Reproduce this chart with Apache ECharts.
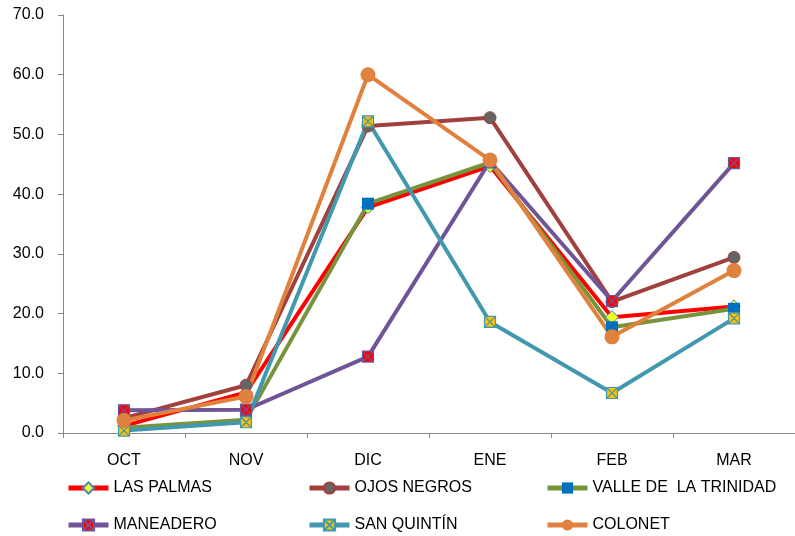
<!DOCTYPE html>
<html>
<head>
<meta charset="utf-8">
<script src="https://cdn.jsdelivr.net/npm/echarts@6/dist/echarts.min.js"></script>
<style>html,body{margin:0;padding:0;background:#fff;}#c{width:795px;height:536px;}</style>
</head>
<body>
<div id="c"></div>
<script>
var categories = ['OCT', 'NOV', 'DIC', 'ENE', 'FEB', 'MAR'];
var lasPalmas = [1.2, 6.8, 37.8, 44.7, 19.4, 21.2];
var ojosNegros = [2.5, 8.0, 51.4, 52.8, 22.0, 29.4];
var valleTrinidad = [0.9, 2.2, 38.4, 45.3, 17.7, 20.8];
var maneadero = [3.8, 3.9, 12.8, 45.5, 22.1, 45.2];
var sanQuintin = [0.4, 1.8, 52.2, 18.6, 6.7, 19.2];
var colonet = [2.1, 6.1, 60.0, 45.7, 16.1, 27.2];
var seriesNames = ['LAS PALMAS', 'OJOS NEGROS', 'VALLE DE  LA TRINIDAD', 'MANEADERO', 'SAN QUINTÍN', 'COLONET'];
var yTicks = [0, 70, 10];

var xSym = 'path://M0,0L10,0L10,10L0,10Z M0,0L10,10 M10,0L0,10';
var FONT = 'Liberation Sans';

function mk(name, data, lineColor, symbol, size, fill, border, bw) {
  return {
    name: name, type: 'line', data: data,
    symbol: symbol, symbolSize: size,
    lineStyle: {color: lineColor, width: 4},
    itemStyle: {color: fill, borderColor: border, borderWidth: bw},
    emphasis: {disabled: true},
    animation: false
  };
}

var series = [
  mk(seriesNames[0], lasPalmas, '#FF0000', 'diamond', 13, '#E8FF2A', '#4F81BD', 1),
  mk(seriesNames[1], ojosNegros, '#A0413E', 'circle', 12, '#646464', '#A0413E', 1),
  mk(seriesNames[2], valleTrinidad, '#77933C', 'rect', 12, '#0070C0', '#0070C0', 0),
  mk(seriesNames[3], maneadero, '#6F5597', xSym, 11, '#FF0000', '#6F5597', 1.2),
  mk(seriesNames[4], sanQuintin, '#4198AF', xSym, 11, '#FFC000', '#4198AF', 1.2),
  mk(seriesNames[5], colonet, '#E0823D', 'circle', 15, '#E0823D', '#E0823D', 0)
];

var legPos = [[61, 475], [302, 475], [540, 475], [61, 512], [302, 512], [540, 512]];
var legends = seriesNames.map(function (n, i) {
  return {
    data: [n], left: legPos[i][0], top: legPos[i][1],
    itemWidth: 40, itemHeight: 14, itemGap: 4,
    lineStyle: {width: 5},
    textStyle: {fontFamily: FONT, fontSize: 16, color: '#000'},
    selectedMode: false
  };
});

var chart = echarts.init(document.getElementById('c'));
chart.setOption({
  backgroundColor: '#fff',
  animation: false,
  grid: {left: 63, top: 15, width: 739, bottom: 103, containLabel: false},
  legend: legends,
  xAxis: {
    type: 'category', data: categories, boundaryGap: true,
    axisLine: {lineStyle: {color: '#888', width: 1}},
    axisTick: {show: true, alignWithLabel: false, length: 5, lineStyle: {color: '#888'}},
    axisLabel: {fontFamily: FONT, fontSize: 16, color: '#000', margin: 20}
  },
  yAxis: {
    type: 'value', min: yTicks[0], max: yTicks[1], interval: yTicks[2],
    axisLine: {show: true, lineStyle: {color: '#888', width: 1}},
    axisTick: {show: true, length: 5, lineStyle: {color: '#888'}},
    splitLine: {show: false},
    axisLabel: {fontFamily: FONT, fontSize: 16, color: '#000', margin: 19,
      formatter: function (v) { return v.toFixed(1); }}
  },
  series: series
});
</script>
</body>
</html>
